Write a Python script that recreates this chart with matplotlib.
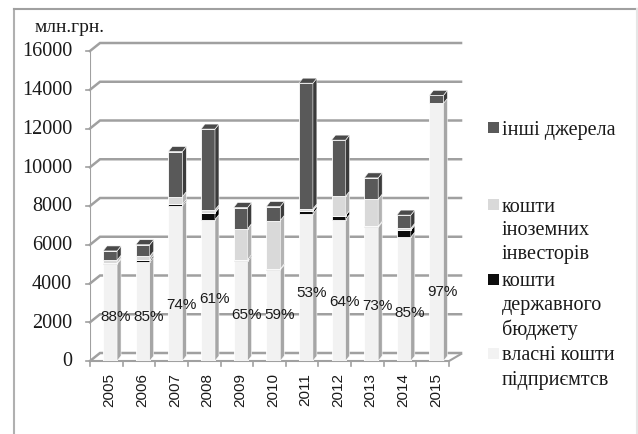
import numpy as np
import matplotlib.pyplot as plt
from matplotlib.patches import Polygon, Rectangle
from matplotlib.lines import Line2D

plt.rcParams['font.family'] = 'serif'
plt.rcParams['font.serif'] = ['Liberation Serif', 'DejaVu Serif']

# data (млн.грн.)
years = ['2005', '2006', '2007', '2008', '2009', '2010', '2011', '2012', '2013', '2014', '2015']
own = [5000, 5100, 8000, 7300, 5150, 4700, 7600, 7300, 6900, 6400, 13300]
budget = [50, 100, 80, 350, 80, 50, 150, 200, 50, 350, 0]
foreign = [150, 200, 400, 150, 1600, 2500, 100, 1000, 1400, 100, 0]
other = [480, 600, 2330, 4170, 1090, 720, 6490, 2900, 1100, 680, 410]
own_share = [88, 85, 74, 61, 65, 59, 53, 64, 73, 85, 97]
yticks = [0, 2000, 4000, 6000, 8000, 10000, 12000, 14000, 16000]

names = ['власні кошти\nпідприємтсв', 'кошти\nдержавного\nбюджету',
         'кошти\nіноземних\nінвесторів', 'інші джерела']
# front, side, top colours for each series
cols = [('#f2f2f2', '#a6a6a6', '#fafafa'),
        ('#0d0d0d', '#000000', '#262626'),
        ('#d9d9d9', '#b3b3b3', '#e8e8e8'),
        ('#595959', '#3b3b3b', '#4a4a4a')]

# layout: pixels -> data units
W, H = 638, 435
PX = 1 / 32.64      # x data per pixel
PY = 1000 / 19.375  # y data per pixel
label_y = [2320, 2320, 2940, 3250, 2425, 2425, 3560, 3100, 2890, 2530, 3610]
sans = 'Liberation Sans'

fig = plt.figure(figsize=(6.38, 4.35), dpi=100)
x0, x1, y1 = -0.5, 11.0, 16600
ax = fig.add_axes([90 / W, (H - 362) / H, (x1 - x0) / PX / W, y1 / PY / H])
ax.set_xlim(x0, x1)
ax.set_ylim(0, y1)
ax.axis('off')

def fpx(x, y):
    return x / W, 1 - y / H

# outer frame
fig.add_artist(Line2D([14 / W, 14 / W], [0, 1 - 10 / H], color='#b0b0b0', lw=1.5))
fig.add_artist(Line2D([14 / W, 637 / W], [1 - 10 / H, 1 - 10 / H], color='#a0a0a0', lw=1.5))
fig.add_artist(Line2D([637 / W, 637 / W], [0, 1 - 10 / H], color='#e6e6e6', lw=1.5))

grid_c = '#a0a0a0'
bdx, bdy = 10 * PX, 8 * PY
xr = 10.5 + 12 * PX
n = len(years)
# back wall gridlines and left wall slants
for v in yticks:
    ax.plot([x0, x0 + bdx, xr], [v, v + bdy, v + bdy], color=grid_c, lw=1.8,
            zorder=1, solid_joinstyle='miter', clip_on=False)
    ax.plot([x0 - 4 * PX, x0], [v, v], color=grid_c, lw=1.2, clip_on=False)
    ax.text(x0 - 18 * PX, v, f'{v}', ha='right', va='center', fontsize=14.5,
            color='#1a1a1a')
ax.plot([x0, x0], [0, yticks[-1]], color=grid_c, lw=1.5, zorder=2)
# floor
ax.plot([x0, 10.5, xr], [0, 0, 7 * PY], color=grid_c, lw=1.5, zorder=2, clip_on=False)
for k in range(n + 1):
    ax.plot([k - 0.5, k - 0.5], [0, -5 * PY], color=grid_c, lw=1.2, clip_on=False)

# 3D-looking stacked bars
bw = 14 * PX
ddx, ddy = 4 * PX, 5 * PY
stack = [own, budget, foreign, other]
for i in range(n):
    left = i - 0.1
    base = 0
    tops = [k for k in range(4) if stack[k][i] > 0]
    for k in range(4):
        v = stack[k][i]
        if v <= 0:
            continue
        b, t = base, base + v
        fc, sc, tc = cols[k]
        ax.add_patch(Rectangle((left, b), bw, v, facecolor=fc, edgecolor='white',
                               lw=0.6, zorder=3))
        ax.add_patch(Polygon([(left + bw, b), (left + bw + ddx, b + ddy),
                              (left + bw + ddx, t + ddy), (left + bw, t)],
                             closed=True, facecolor=sc, edgecolor='white', lw=0.4, zorder=3))
        if k == tops[-1]:
            ax.add_patch(Polygon([(left, t), (left + ddx, t + ddy),
                                  (left + bw + ddx, t + ddy), (left + bw, t)],
                                 closed=True, facecolor=tc, edgecolor='white', lw=0.4, zorder=3))
        base = t
    ax.text(i + 0.3, label_y[i], f'{own_share[i]}%', ha='center', va='center',
            fontsize=11, family=sans, color='#1a1a1a', zorder=5)
    ax.text(i + 0.1, -11 * PY, years[i], rotation=90, ha='center', va='top',
            fontsize=11, family=sans, color='#1a1a1a')

fig.text(*fpx(35, 28), 'млн.грн.', ha='left', va='center', fontsize=14,
         color='#1a1a1a')

# legend
leg_rows = [(3, 130), (2, 207), (1, 282), (0, 356)]
for k, y in leg_rows:
    fig.add_artist(Rectangle(fpx(488, y + 4), 11 / W, 11 / H, facecolor=cols[k][0],
                             edgecolor='none', transform=fig.transFigure))
    for j, line in enumerate(names[k].split('\n')):
        fig.text(*fpx(502, y + j * 24), line, ha='left', va='center', fontsize=14.5,
                 color='#1a1a1a')

fig.savefig('out.png', dpi=100)
